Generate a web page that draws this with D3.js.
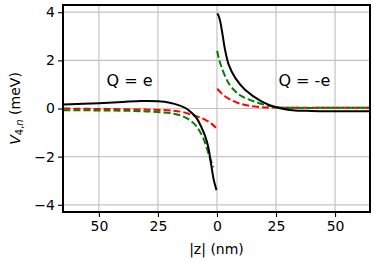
<!DOCTYPE html>
<html>
<head>
<meta charset="utf-8">
<script src="https://cdn.jsdelivr.net/npm/d3@7"></script>
<style>
  body { margin: 0; background: #fff; }
  text { font-family: "DejaVu Sans", sans-serif; }
</style>
</head>
<body>
<div id="chart"></div>
<script>
// left side (Q = e), z is signed: negative means left panel
const zLeftBlack = [-65, -50, -40, -32, -25, -20, -16, -13, -10.5, -8.5, -6.5, -5, -3.7, -2.5, -1.4, -0.2];
const vLeftBlack = [0.17, 0.22, 0.27, 0.31, 0.3, 0.24, 0.13, 0.0, -0.2, -0.42, -0.8, -1.15, -1.6, -2.3, -2.95, -3.39];
const zLeftGreen = [-65, -50, -40, -30, -20, -15, -11.4, -9, -7.2, -5.5, -4.4, -3, -1.5];
const vLeftGreen = [-0.07, -0.08, -0.09, -0.12, -0.19, -0.3, -0.49, -0.7, -0.97, -1.3, -1.62, -2.05, -2.45];
const zLeftRed = [-65, -50, -40, -28, -18.5, -14, -10, -7, -4.4, -2.5, -0.4];
const vLeftRed = [0.0, -0.02, -0.03, -0.05, -0.09, -0.16, -0.28, -0.38, -0.5, -0.62, -0.8];

// right side (Q = -e)
const zRightBlack = [0.1, 0.7, 1.4, 2.4, 3.3, 5, 7.8, 12, 19, 25.4, 32, 40, 50, 65];
const vRightBlack = [3.95, 3.85, 3.61, 3.05, 2.5, 1.81, 1.26, 0.77, 0.29, 0.04, -0.07, -0.1, -0.11, -0.11];
const zRightGreen = [0.1, 1, 3.2, 5.6, 8.5, 10.6, 15.5, 24, 32, 50, 65];
const vRightGreen = [2.4, 2.0, 1.4, 0.95, 0.65, 0.5, 0.3, 0.07, 0.03, 0.03, 0.03];
const zRightRed = [0.1, 3.5, 9.2, 16.2, 25, 40, 65];
const vRightRed = [0.82, 0.5, 0.22, 0.08, 0.04, 0.03, 0.03];

const xTicks = [-50, -25, 0, 25, 50];
const yTicks = [-4, -2, 0, 2, 4];

const W = 374, H = 262;
const margin = { top: 5, right: 4, bottom: 50, left: 63 };
const width = W - margin.left - margin.right;
const height = H - margin.top - margin.bottom;

const svg = d3.select("#chart").append("svg")
  .attr("width", W).attr("height", H);

const g = svg.append("g")
  .attr("transform", `translate(${margin.left},${margin.top})`);

const x = d3.scaleLinear().domain([-65.2, 64.8]).range([0, width]);
const y = d3.scaleLinear().domain([-4.3, 4.3]).range([height, 0]);

// grid
g.append("g").selectAll("line").data(xTicks).join("line")
  .attr("x1", d => x(d)).attr("x2", d => x(d))
  .attr("y1", 0).attr("y2", height)
  .attr("stroke", "#c4c4c4").attr("stroke-width", 1.2);
g.append("g").selectAll("line").data(yTicks).join("line")
  .attr("x1", 0).attr("x2", width)
  .attr("y1", d => y(d)).attr("y2", d => y(d))
  .attr("stroke", "#c4c4c4").attr("stroke-width", 1.2);

// curves
const line = d3.line()
  .x(d => x(d[0])).y(d => y(d[1]))
  .curve(d3.curveCatmullRom.alpha(0.5));

const series = [
  { z: zLeftRed, v: vLeftRed, color: "#ff0000", dash: "7,3" },
  { z: zLeftGreen, v: vLeftGreen, color: "#008000", dash: "7,3" },
  { z: zLeftBlack, v: vLeftBlack, color: "#000000", dash: null },
  { z: zRightRed, v: vRightRed, color: "#ff0000", dash: "7,3" },
  { z: zRightGreen, v: vRightGreen, color: "#008000", dash: "7,3" },
  { z: zRightBlack, v: vRightBlack, color: "#000000", dash: null }
];

g.append("g").selectAll("path").data(series).join("path")
  .attr("d", s => line(s.z.map((z, i) => [z, s.v[i]])))
  .attr("fill", "none")
  .attr("stroke", s => s.color)
  .attr("stroke-width", 2)
  .attr("stroke-dasharray", s => s.dash);

// axes
const xAxis = d3.axisBottom(x).tickValues(xTicks)
  .tickFormat(d => Math.abs(d)).tickSizeOuter(0).tickSize(5).tickPadding(4);
const yAxis = d3.axisLeft(y).tickValues(yTicks)
  .tickFormat(d => d < 0 ? "\u2212" + Math.abs(d) : d).tickSizeOuter(0).tickSize(5).tickPadding(3);

const gx = g.append("g").attr("transform", `translate(0,${height})`).call(xAxis);
const gy = g.append("g").call(yAxis);
[gx, gy].forEach(a => {
  a.select(".domain").remove();
  a.selectAll(".tick line").attr("stroke", "#000").attr("stroke-width", 1.1);
  a.selectAll(".tick text").attr("font-size", 14).attr("fill", "#000")
    .style("font-family", "DejaVu Sans, sans-serif");
});

// frame
g.append("rect")
  .attr("width", width).attr("height", height)
  .attr("fill", "none").attr("stroke", "#000").attr("stroke-width", 2);

// annotations
g.append("text").attr("x", x(-37)).attr("y", y(0.95))
  .attr("text-anchor", "middle").attr("font-size", 16).text("Q = e");
g.append("text").attr("x", x(37)).attr("y", y(0.95))
  .attr("text-anchor", "middle").attr("font-size", 16).text("Q = -e");

// axis labels
svg.append("text")
  .attr("x", margin.left + width / 2).attr("y", 254)
  .attr("text-anchor", "middle").attr("font-size", 14).text("|z| (nm)");

const yl = svg.append("text")
  .attr("transform", `translate(20,${margin.top + height / 2}) rotate(-90)`)
  .attr("text-anchor", "middle").attr("font-size", 14);
yl.append("tspan").attr("font-style", "italic").text("V");
yl.append("tspan").attr("font-size", 10).attr("dy", 3).text("4,");
yl.append("tspan").attr("font-size", 10).attr("font-style", "italic").text("n");
yl.append("tspan").attr("dy", -3).text(" (meV)");
</script>
</body>
</html>
